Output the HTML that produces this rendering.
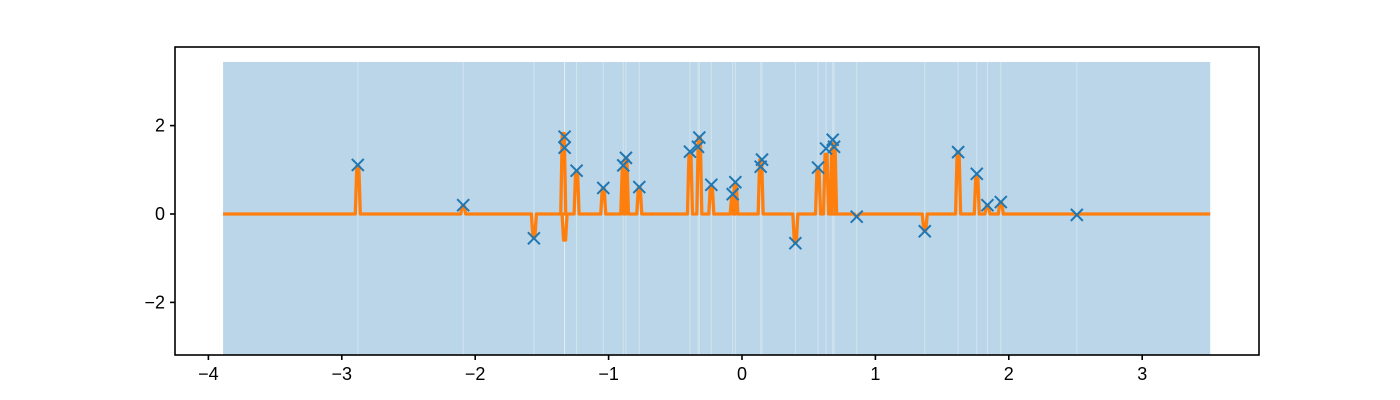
<!DOCTYPE html>
<html><head><meta charset="utf-8">
<style>
html,body{margin:0;padding:0;background:#fff;}
svg{display:block;font-family:"Liberation Sans","DejaVu Sans",sans-serif;}
</style></head>
<body>
<svg id="chart" width="1400" height="400" viewBox="0 0 1400 400" xmlns="http://www.w3.org/2000/svg">
<defs><clipPath id="clip"><rect x="175" y="47" width="1084" height="308"/></clipPath></defs>
<g id="plot" clip-path="url(#clip)"></g>
<g id="axes"></g>
</svg>
<script>
const obsX = [-2.88,-2.09,-1.56,-1.33,-1.33,-1.24,-1.04,-0.89,-0.87,-0.77,-0.39,-0.32,-0.33,-0.23,-0.07,-0.05,0.14,0.15,0.40,0.57,0.63,0.68,0.69,0.86,1.37,1.62,1.76,1.84,1.94,2.51];
const obsY = [1.11,0.20,-0.55,1.75,1.50,0.98,0.59,1.10,1.27,0.61,1.41,1.73,1.52,0.66,0.45,0.72,1.07,1.23,-0.66,1.05,1.48,1.68,1.52,-0.06,-0.39,1.40,0.91,0.20,0.27,-0.02];
const spikeX = [-2.88,-2.09,-1.56,-1.34,-1.33,-1.24,-1.04,-0.89,-0.87,-0.77,-0.39,-0.32,-0.23,-0.07,-0.05,0.14,0.40,0.57,0.63,0.68,0.69,0.86,1.37,1.62,1.76,1.84,1.94,2.51];
const spikeY = [1.08,0.18,-0.52,1.82,-0.59,0.95,0.57,1.05,1.25,0.59,1.36,1.74,0.62,0.40,0.68,1.22,-0.64,1.03,1.35,1.48,1.60,-0.05,-0.37,1.40,0.85,0.19,0.25,-0.02];
const bandLo = -3.89, bandHi = 3.51, bandTop = 3.44, bandBottom = -3.6;
const xTicks = [-4,-3,-2,-1,0,1,2,3];
const yTicks = [-2,0,2];

const X0=175,X1=1259,Y0=47,Y1=355;
const sx = v => 742 + v*133.4;
const sy = v => 214 - v*44.2;
const NS="http://www.w3.org/2000/svg";
function mk(tag, parent, attrs){const e=document.createElementNS(NS,tag);for(const k in attrs)e.setAttribute(k,attrs[k]);parent.appendChild(e);return e;}
const plot=document.getElementById('plot'), axes=document.getElementById('axes');

const band=mk('rect',plot,{x:sx(bandLo),y:sy(bandTop),width:sx(bandHi)-sx(bandLo),height:sy(bandBottom)-sy(bandTop),fill:'#bbd6e8'});


obsX.forEach(v=>{
  const g=mk('line',plot,{x1:sx(v),x2:sx(v),y1:sy(bandTop),y2:Y1,stroke:'#fff','stroke-width':1,opacity:0.35});
  
  
});

let d=`M${sx(bandLo)},${sy(0)}`;
const order=spikeX.map((v,i)=>i).sort((a,b)=>spikeX[a]-spikeX[b]);
order.forEach(i=>{const x=sx(spikeX[i]);d+=` L${x-2.5},${sy(0)} L${x-1},${sy(spikeY[i])} L${x+1},${sy(spikeY[i])} L${x+2.5},${sy(0)}`;});
d+=` L${sx(bandHi)},${sy(0)}`;
const mean=mk('path',plot,{d:d,fill:'none',stroke:'#ff7f0e','stroke-width':3.3,'stroke-linejoin':'round'});



obsX.forEach((v,i)=>{
  const x=sx(v),y=sy(obsY[i]),r=6;
  const m=mk('path',plot,{d:`M${x-r},${y-r}L${x+r},${y+r}M${x-r},${y+r}L${x+r},${y-r}`,stroke:'#1f77b4','stroke-width':2,fill:'none'});
  
  
});

const frame=mk('rect',axes,{x:X0,y:Y0,width:X1-X0,height:Y1-Y0,fill:'none',stroke:'#000','stroke-width':1.6});


xTicks.forEach(t=>{
  const x=sx(t);
  const tk=mk('line',axes,{x1:x,x2:x,y1:Y1,y2:Y1+5,stroke:'#000','stroke-width':1.6});
  
  
  const tx=mk('text',axes,{x:x,y:Y1+25,'text-anchor':'middle','font-size':18,fill:'#000'});
  tx.textContent=(t<0?'\u2212'+(-t):t);
  
  
});
yTicks.forEach(t=>{
  const y=sy(t);
  const tk=mk('line',axes,{x1:X0-5,x2:X0,y1:y,y2:y,stroke:'#000','stroke-width':1.6});
  
  
  const tx=mk('text',axes,{x:X0-10,y:y+6,'text-anchor':'end','font-size':18,fill:'#000'});
  tx.textContent=(t<0?'\u2212'+(-t):t);
  
  
});
</script>
</body></html>
